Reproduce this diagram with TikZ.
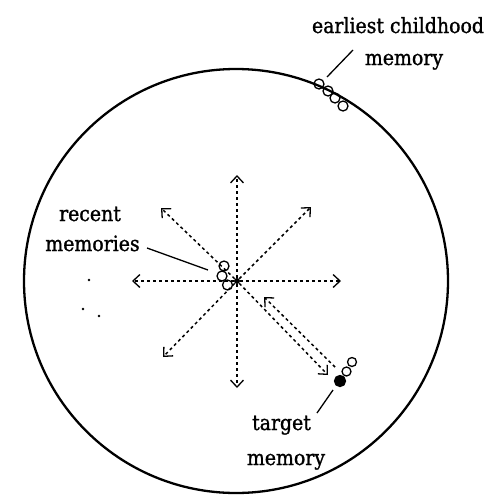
\documentclass[tikz,border=0pt]{standalone}
\usepackage{fontspec}
\setmainfont{DejaVu Serif}
\newfontface\lblfont{DejaVu Serif Condensed}[FakeBold=1.2]
\usetikzlibrary{arrows.meta}
\begin{document}
\begin{tikzpicture}[x=1pt,y=-1pt,
 ray/.style={line width=1.5pt, dash pattern=on 3pt off 3pt, -{Straight Barb[length=7pt,width=13pt,line width=1.3pt]}},
 mem/.style={circle, draw, line width=1.3pt, minimum size=10pt, inner sep=0pt},
 memfill/.style={mem, fill=black},
 dotpt/.style={circle, fill, minimum size=2.6pt, inner sep=0pt},
 lbl/.style={font=\lblfont\fontsize{21}{25}\selectfont, anchor=base, inner sep=0pt},
 lead/.style={line width=1.3pt}]
\useasboundingbox (0,0) rectangle (494,498);
\draw[line width=2.3pt] (236,281) circle (212);
% center
\node[circle, fill, minimum size=6pt, inner sep=0pt] (c) at (237,281) {};
\coordinate (up) at (237,175);
\coordinate (dn) at (237,388);
\coordinate (lf) at (132,281);
\coordinate (rt) at (341,281);
\coordinate (ul) at (161,208);
\coordinate (ur) at (311,207);
\coordinate (ll) at (163,357);
\coordinate (lr) at (328,375);
\coordinate (bs) at (335,367);
\coordinate (be) at (264,297);
\foreach \t in {up,dn,lf,rt,ul,ur,ll,lr} \draw[ray] (c) -- (\t);
\draw[ray] (bs) -- (be);
% recent memories
\node[mem] (r1) at (224,266) {};
\node[mem] (r2) at (222,276) {};
\node[mem] (r3) at (227.5,285) {};
% earliest
\node[mem] (e1) at (319,84) {};
\node[mem] (e2) at (328,91) {};
\node[mem] (e3) at (335,98) {};
\node[mem] (e4) at (343,106) {};
% target
\node[memfill, minimum size=11pt] (t0) at (340,381) {};
\node[mem, minimum size=9pt] (t1) at (346.5,371.5) {};
\node[mem, minimum size=9pt] (t2) at (352,362) {};
% dots
\node[dotpt] (d1) at (89,280) {};
\node[dotpt] (d2) at (83,309) {};
\node[dotpt] (d3) at (99,316) {};
% labels
\node[lbl] (le1) at (398,33) {earliest childhood};
\node[lbl] (le2) at (404,65) {memory};
\node[lbl] (lr1) at (90,221) {recent};
\node[lbl] (lr2) at (92.5,251) {memories};
\node[lbl] (lt1) at (281.5,430) {target};
\node[lbl] (lt2) at (286,465) {memory};
% leaders
\coordinate (ea) at (353,50);
\coordinate (eb) at (327,77);
\coordinate (ra) at (147,248);
\coordinate (rb) at (208,270);
\coordinate (ta) at (317,413);
\coordinate (tb) at (333,390);
\draw[lead] (ea) -- (eb);
\draw[lead] (ra) -- (rb);
\draw[lead] (ta) -- (tb);
\end{tikzpicture}
\end{document}
